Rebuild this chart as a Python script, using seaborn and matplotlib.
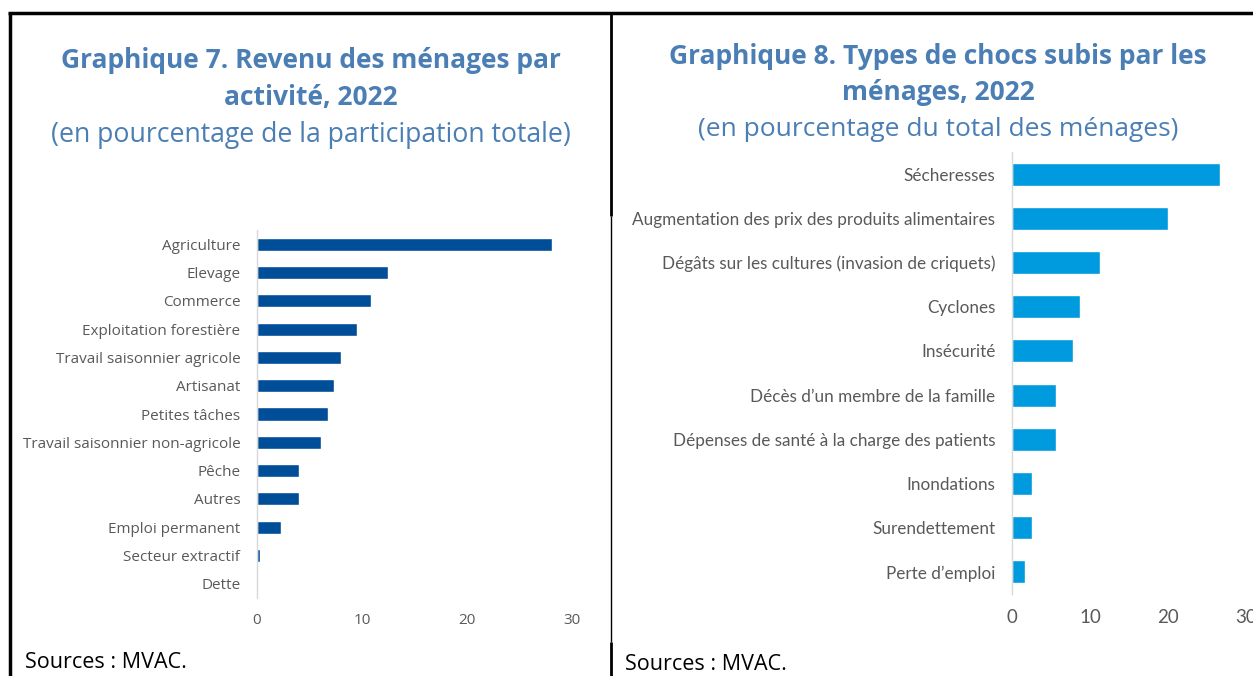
import matplotlib
matplotlib.use("Agg")
import matplotlib.pyplot as plt
import seaborn as sns
import pandas as pd
from matplotlib.lines import Line2D

# ---- Data ----
activites = ["Agriculture", "Elevage", "Commerce", "Exploitation forestière",
             "Travail saisonnier agricole", "Artisanat", "Petites tâches",
             "Travail saisonnier non-agricole", "Pêche", "Autres",
             "Emploi permanent", "Secteur extractif", "Dette"]
revenu = [28.1, 12.5, 10.9, 9.5, 8.0, 7.3, 6.8, 6.1, 4.0, 4.0, 2.3, 0.3, 0.1]

chocs = ["Sécheresses", "Augmentation des prix des produits alimentaires",
         "Dégâts sur les cultures (invasion de criquets)", "Cyclones",
         "Insécurité", "Décès d\u2019un membre de la famille",
         "Dépenses de santé à la charge des patients", "Inondations",
         "Surendettement", "Perte d\u2019emploi"]
chocs_pct = [26.7, 20.0, 11.3, 8.7, 7.8, 5.6, 5.6, 2.6, 2.6, 1.7]

xticks = [0, 10, 20, 30]

sns.set_theme(style="white")
plt.rcParams['font.family'] = ['Open Sans', 'DejaVu Sans']

W, H = 1253, 676
fig = plt.figure(figsize=(W / 100, H / 100), dpi=100)

def fx(px):
    return px / W

def fy(py):
    return 1 - py / H

title_col = "#4A7EB4"
tick_col = "#595959"

# ---- Left chart ----
axL = fig.add_axes([fx(257), fy(598), fx(572) - fx(257), fy(230) - fy(598)])
dfL = pd.DataFrame({"cat": activites, "val": revenu})
sns.barplot(data=dfL, y="cat", x="val", orient="h", color="#004E98",
            width=0.46, ax=axL, saturation=1)
axL.set_xlim(0, 30)
axL.set_ylim(12.5, -0.5)
axL.set_xticks(xticks)
axL.set_xlabel("")
axL.set_ylabel("")
axL.tick_params(axis="y", labelsize=11, labelcolor=tick_col, length=0, pad=12)
axL.tick_params(axis="x", labelsize=11, labelcolor=tick_col, length=0, pad=11)
for s in ["top", "right", "bottom"]:
    axL.spines[s].set_visible(False)
axL.spines["left"].set_color("#D9D9D9")
axL.spines["left"].set_linewidth(1)

# ---- Right chart ----
narrow = ['Lato', 'DejaVu Sans']
axR = fig.add_axes([fx(1012), fy(594), fx(1246) - fx(1012), fy(152) - fy(594)])
dfR = pd.DataFrame({"cat": chocs, "val": chocs_pct})
sns.barplot(data=dfR, y="cat", x="val", orient="h", color="#009ADE",
            width=0.52, ax=axR, saturation=1)
axR.set_xlim(0, 30)
axR.set_ylim(9.5, -0.5)
axR.set_xticks(xticks)
axR.set_xlabel("")
axR.set_ylabel("")
axR.tick_params(axis="y", labelsize=12.3, labelcolor=tick_col, length=0, pad=12)
axR.tick_params(axis="x", labelsize=13.5, labelcolor=tick_col, length=0, pad=11)
for lab in axR.get_yticklabels() + axR.get_xticklabels():
    lab.set_family(narrow)
for s in ["top", "right", "bottom"]:
    axR.spines[s].set_visible(False)
axR.spines["left"].set_color("#D9D9D9")
axR.spines["left"].set_linewidth(1)

# ---- Titles ----
fig.text(fx(311), fy(60), "Graphique 7. Revenu des ménages par", ha="center",
         va="center", fontsize=19, fontweight="bold", color=title_col)
fig.text(fx(311), fy(97), "activité, 2022", ha="center", va="center",
         fontsize=19, fontweight="bold", color=title_col)
fig.text(fx(311), fy(135), "(en pourcentage de la participation totale)",
         ha="center", va="center", fontsize=19.2, color=title_col)

fig.text(fx(938), fy(56), "Graphique 8. Types de chocs subis par les",
         ha="center", va="center", fontsize=19, fontweight="bold", color=title_col)
fig.text(fx(938), fy(92), "ménages, 2022", ha="center", va="center",
         fontsize=19, fontweight="bold", color=title_col)
fig.text(fx(938), fy(130), "(en pourcentage du total des ménages)",
         ha="center", va="center", fontsize=19, color=title_col)

fig.text(fx(25), fy(663), "Sources : MVAC.", ha="left", va="center",
         fontsize=15.5, color="black")
fig.text(fx(625), fy(665), "Sources : MVAC.", ha="left", va="center",
         fontsize=15.5, color="black")

# ---- Frame lines ----
def line(x0, y0, x1, y1, lw):
    fig.add_artist(Line2D([fx(x0), fx(x1)], [fy(y0), fy(y1)], color="black",
                          linewidth=lw, transform=fig.transFigure,
                          solid_capstyle="butt"))

line(8, 13, 1253, 13, 2.5)
line(10, 13, 10, 676, 2.5)
line(611, 13, 611, 216, 2.0)
line(611, 216, 611, 642, 1.0)
line(611, 642, 611, 676, 2.0)

fig.savefig("out.png", dpi=100)
